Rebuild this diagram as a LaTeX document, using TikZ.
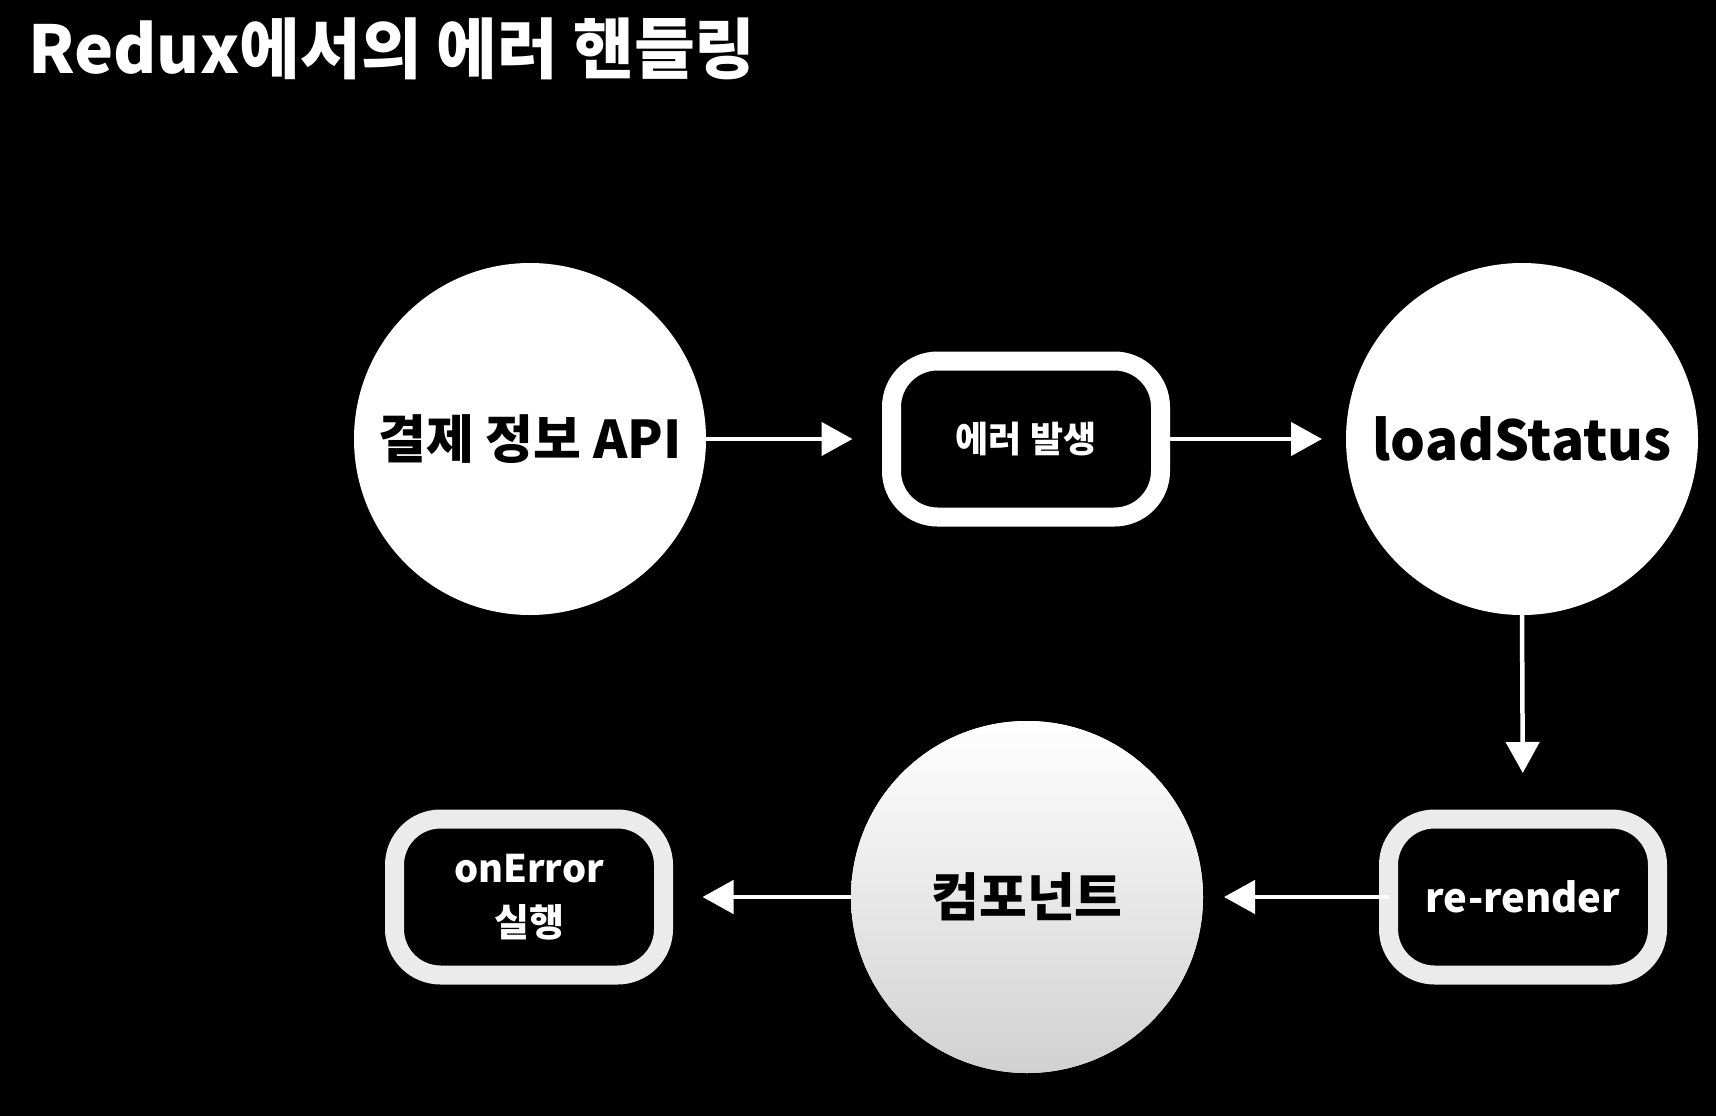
\documentclass[tikz,border=0pt]{standalone}
\usepackage{fontspec}
\setmainfont{Noto Sans CJK KR}
\usetikzlibrary{arrows.meta}
\tikzset{
  bigcircle/.style={circle, fill=white, minimum size=352pt, inner sep=0pt, outer sep=0pt, font=\bfseries\fontsize{55}{60}\selectfont, text=black},
  roundbox/.style={rectangle, rounded corners=46pt, fill=black, draw=white, line width=19pt, minimum width=269pt, minimum height=156pt, inner sep=0pt, outer sep=0pt, text=white, font=\bfseries\fontsize{36}{44}\selectfont, align=center},
  flow/.style={draw=white, line width=4.5pt, -{Triangle[length=31pt,width=33pt]}},
}
\begin{document}
\begin{tikzpicture}[x=1pt,y=-1pt]
\useasboundingbox[fill=black] (0,0) rectangle (1716,1116);
\node[anchor=base west, text=white, font=\bfseries\fontsize{66}{70}\selectfont, inner sep=0pt] (title) at (28,74) {Redux에서의 에러 핸들링};

\node[bigcircle, font=\bfseries\fontsize{52}{60}\selectfont] (api) at (530,439) {결제 정보 API};
\node[roundbox] (err) at (1026,439) {에러 발생};
\node[bigcircle] (load) at (1522,439) {loadStatus};
\node[roundbox, draw=white!92!black, font=\bfseries\fontsize{40}{44}\selectfont] (rr) at (1523,897) {re-render};
\node[bigcircle, shading=axis, top color=white, bottom color=white!82!black, font=\bfseries\fontsize{52}{60}\selectfont] (comp) at (1027,897) {컴포넌트};
\node[roundbox, draw=white!92!black, font=\bfseries\fontsize{38}{54}\selectfont] (onerr) at (529,897) {onError\\실행};

\draw[flow, shorten >=39pt] (api.east) -- (err.west);
\draw[flow, shorten >=24pt] (err.east) -- (load.west);
\draw[flow, shorten >=46pt] (load.south) -- (rr.north);
\draw[flow, shorten >=21pt] (rr.west) -- (comp.east);
\draw[flow, shorten >=39pt] (comp.west) -- (onerr.east);
\end{tikzpicture}
\end{document}
